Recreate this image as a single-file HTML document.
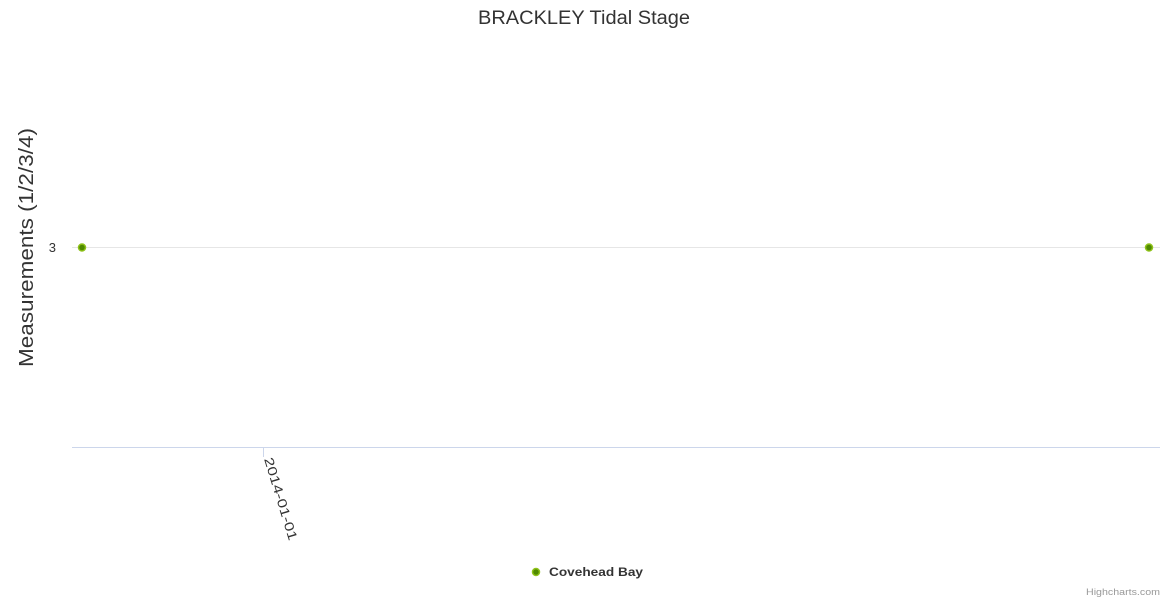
<!DOCTYPE html>
<html><head><meta charset="utf-8"><style>html,body{margin:0;padding:0;background:#fff;}svg{display:block;font-family:"Liberation Sans","DejaVu Sans",sans-serif;}</style></head>
<body>
<svg width="1170" height="600" viewBox="0 0 1170 600">
<rect width="1170" height="600" fill="#fff"/>
<text x="478" y="24" font-size="19" fill="#333" textLength="212" lengthAdjust="spacingAndGlyphs">BRACKLEY Tidal Stage</text>
<line x1="72" y1="247.5" x2="1160" y2="247.5" stroke="#e6e6e6" stroke-width="1"/>
<line x1="72" y1="447.5" x2="1160" y2="447.5" stroke="#ccd6eb" stroke-width="1"/>
<line x1="263.5" y1="447" x2="263.5" y2="457" stroke="#ccd6eb" stroke-width="1"/>
<text x="56" y="252" text-anchor="end" font-size="13" fill="#333">3</text>
<text transform="translate(33,367) rotate(-90)" font-size="20" fill="#333" textLength="239" lengthAdjust="spacingAndGlyphs">Measurements (1/2/3/4)</text>
<text transform="translate(264,459) rotate(73)" font-size="13" fill="#333" textLength="86" lengthAdjust="spacingAndGlyphs">2014-01-01</text>
<circle cx="82" cy="247.5" r="3.5" fill="#4f8a00" stroke="#8fc21a" stroke-width="1.5"/>
<circle cx="1149" cy="247.5" r="3.5" fill="#4f8a00" stroke="#8fc21a" stroke-width="1.5"/>
<circle cx="536" cy="572" r="3.5" fill="#4f8a00" stroke="#8fc21a" stroke-width="1.5"/>
<text x="549" y="576" font-size="12" font-weight="bold" fill="#333" textLength="94" lengthAdjust="spacingAndGlyphs">Covehead Bay</text>
<text x="1086" y="595" font-size="9" fill="#999" textLength="74" lengthAdjust="spacingAndGlyphs">Highcharts.com</text>
</svg>
</body></html>
